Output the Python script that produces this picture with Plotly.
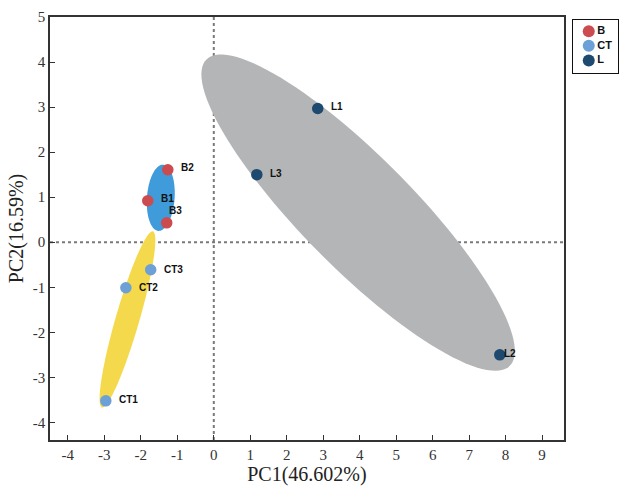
import numpy as np
import plotly.graph_objects as go

# ---- data ----
groups = ["B", "CT", "L"]
sample_names = {
    "B": ["B1", "B2", "B3"],
    "CT": ["CT1", "CT2", "CT3"],
    "L": ["L1", "L2", "L3"],
}
pc1 = {
    "B": [-1.81, -1.26, -1.29],
    "CT": [-2.96, -2.41, -1.73],
    "L": [2.85, 7.84, 1.18],
}
pc2 = {
    "B": [0.92, 1.61, 0.43],
    "CT": [-3.52, -1.01, -0.61],
    "L": [2.97, -2.50, 1.50],
}
x_ticks = list(range(-4, 10))
x_tick_labels = [str(v) for v in x_ticks]
y_ticks = list(range(-4, 6))
y_tick_labels = [str(v) for v in y_ticks]

# ---- styles ----
marker_colors = {"B": "#cc4b4f", "CT": "#6ca0d6", "L": "#1d4a6e"}
ellipse_colors = {"B": "#3f9bd9", "CT": "#f5d94c", "L": "#b4b5b6"}
ellipse_scale = 1.24
label_offsets = {  # pixel shifts (x, y) of the labels
    "B1": (11, 2), "B2": (11, 2), "B3": (0, 12),
    "CT1": (11, 1), "CT2": (11, 0), "CT3": (11, 0),
    "L1": (11, 2), "L2": (2, 1), "L3": (11, 1),
}

fig = go.Figure()
shapes = []

# confidence-style ellipses computed from each group's points
for g in groups:
    pts = np.column_stack([pc1[g], pc2[g]])
    mean = pts.mean(axis=0)
    cov = np.cov(pts, rowvar=False)
    vals, vecs = np.linalg.eigh(cov)
    t = np.linspace(0, 2 * np.pi, 120)
    circle = np.vstack([np.cos(t), np.sin(t)])
    ell = (vecs @ np.diag(np.sqrt(vals)) @ circle) * ellipse_scale + mean[:, None]
    path = "M " + " L ".join(f"{a:.4f},{b:.4f}" for a, b in ell.T) + " Z"
    shapes.append(dict(type="path", path=path, xref="x", yref="y",
                       fillcolor=ellipse_colors[g], line=dict(width=0),
                       layer="below"))

# dotted zero lines
shapes.append(dict(type="line", xref="x", yref="y domain", x0=0, x1=0, y0=0, y1=1,
                   line=dict(color="#7a7a7a", width=2, dash="dot"), layer="below"))
shapes.append(dict(type="line", xref="x domain", yref="y", x0=0, x1=1, y0=0, y1=0,
                   line=dict(color="#7a7a7a", width=2, dash="dot"), layer="below"))

annotations = []
for g in groups:
    fig.add_trace(go.Scatter(
        x=pc1[g], y=pc2[g], mode="markers", name=g, showlegend=False,
        marker=dict(color=marker_colors[g], size=11.5, line=dict(width=0)),
        xaxis="x", yaxis="y",
    ))
    for name, xv, yv in zip(sample_names[g], pc1[g], pc2[g]):
        dx, dy = label_offsets[name]
        annotations.append(dict(
            x=xv, y=yv, xref="x", yref="y", text=f"<b>{name}</b>", showarrow=False,
            xanchor="left", yanchor="middle", xshift=dx, yshift=dy,
            font=dict(family="Liberation Sans", size=10, color="#111"),
        ))

# legend drawn in its own small framed axes (right of the plot)
n = len(groups)
leg_y = [0.79 - i * 0.278 for i in range(n)]
fig.add_trace(go.Scatter(
    x=[0.35] * n, y=leg_y, mode="markers+text", showlegend=False,
    text=[f"<b>{g}</b>" for g in groups], textposition="middle right",
    textfont=dict(family="Liberation Sans", size=11, color="#111"),
    marker=dict(color=[marker_colors[g] for g in groups], size=12, line=dict(width=0)),
    xaxis="x2", yaxis="y2", hoverinfo="skip", cliponaxis=False,
))

axis_common = dict(
    showgrid=False, zeroline=False, showline=True, linecolor="#333",
    linewidth=1.5, mirror=True, ticks="inside", ticklen=5, tickwidth=1,
    tickcolor="#333",
    tickfont=dict(family="Liberation Serif", size=15, color="#333"),
)

fig.update_layout(
    width=619, height=488,
    margin=dict(l=50, r=0, t=17, b=48, autoexpand=False),
    paper_bgcolor="white", plot_bgcolor="white",
    shapes=shapes, annotations=annotations,
    xaxis=dict(domain=[0, 0.9033], range=[-4.49, 9.6], tickvals=x_ticks,
               ticktext=x_tick_labels, **axis_common,
               title=dict(text="PC1(46.602%)", standoff=3,
                          font=dict(family="Liberation Serif", size=20, color="#222"))),
    yaxis=dict(domain=[0, 1], range=[-4.39, 5.0], tickvals=y_ticks,
               ticktext=y_tick_labels, **axis_common,
               title=dict(text="PC2(16.59%)", standoff=4,
                          font=dict(family="Liberation Serif", size=20, color="#222"))),
    xaxis2=dict(domain=[0.9192, 0.9982], range=[0, 1], anchor="y2",
                showgrid=False, zeroline=False, showticklabels=False, ticks="",
                showline=True, mirror=True, linecolor="#111", linewidth=1),
    yaxis2=dict(domain=[0.8676, 0.9929], range=[0, 1], anchor="x2",
                showgrid=False, zeroline=False, showticklabels=False, ticks="",
                showline=True, mirror=True, linecolor="#111", linewidth=1),
    showlegend=False,
)

fig.write_html(
    "out.html",
    config={"displayModeBar": False},
    post_script="document.body.style.margin='0px';document.body.style.overflow='hidden';",
)
